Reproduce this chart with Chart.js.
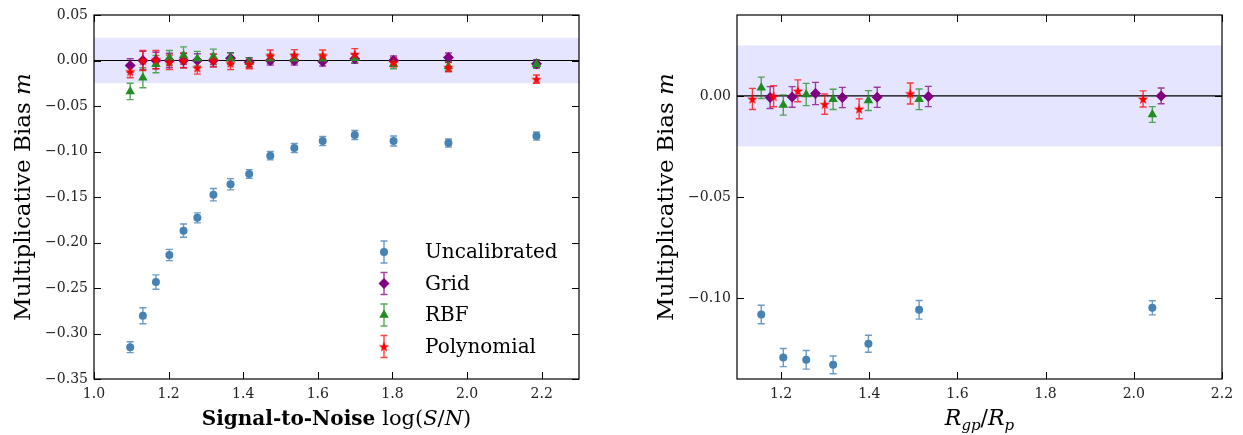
<!DOCTYPE html>
<html lang="en">
<head>
<meta charset="UTF-8">
<title>Multiplicative bias</title>
<style>
  html, body { margin: 0; padding: 0; background: #fff; }
  #wrap { position: relative; width: 1243px; height: 435px; }
  canvas { position: absolute; top: 0; }
  #left { left: 0; }
  #right { left: 620px; }
</style>
</head>
<body>
<div id="wrap">
  <canvas id="left" width="600" height="435"></canvas>
  <canvas id="right" width="623" height="435"></canvas>
</div>
<script src="https://cdn.jsdelivr.net/npm/chart.js@4.4.1/dist/chart.umd.min.js"></script>
<script>
// ---- left panel: bias against log(S/N)
const snr = [1.097, 1.131, 1.166, 1.202, 1.240, 1.277, 1.320, 1.366, 1.416, 1.4725, 1.537, 1.613, 1.699, 1.803, 1.950, 2.186];
const snrUncal = [-0.315, -0.2805, -0.2435, -0.2137, -0.187, -0.1729, -0.1475, -0.136, -0.1247, -0.1046, -0.0962, -0.0885, -0.082, -0.0885, -0.0907, -0.083];
const snrUncalErr = [0.006, 0.0088, 0.0079, 0.0062, 0.0073, 0.0055, 0.0068, 0.0062, 0.0048, 0.0046, 0.005, 0.005, 0.005, 0.0055, 0.0045, 0.0045];
const snrGrid = [-0.0055, 0, 0, 0, 0, 0, 0, 0.0025, -0.002, 0, 0, -0.001, 0.002, 0, 0.0033, -0.0035];
const snrGridErr = [0.0075, 0.010, 0.009, 0.008, 0.008, 0.0075, 0.007, 0.006, 0.005, 0.005, 0.005, 0.005, 0.005, 0.005, 0.005, 0.0045];
const snrRbf = [-0.034, -0.019, -0.004, 0.003, 0.0055, 0.002, 0.004, 0.002, -0.002, 0.002, 0.002, 0.002, 0.0025, -0.004, -0.0066, -0.004];
const snrRbfErr = [0.009, 0.011, 0.0095, 0.008, 0.0095, 0.008, 0.0085, 0.0065, 0.005, 0.005, 0.005, 0.005, 0.005, 0.005, 0.005, 0.0045];
const snrPoly = [-0.012, 0, 0.001, -0.002, 0, -0.008, 0, -0.003, -0.004, 0.0055, 0.006, 0.0055, 0.007, -0.002, -0.0073, -0.0205];
const snrPolyErr = [0.007, 0.011, 0.010, 0.008, 0.008, 0.007, 0.007, 0.007, 0.005, 0.006, 0.006, 0.006, 0.006, 0.005, 0.005, 0.0045];
const snrTicksX = [1.0, 1.2, 1.4, 1.6, 1.8, 2.0, 2.2];
const snrTicksY = [-0.35, -0.30, -0.25, -0.20, -0.15, -0.10, -0.05, 0.00, 0.05];

// ---- right panel: bias against R_gp/R_p
const sizeBins = [1.155, 1.205, 1.257, 1.318, 1.398, 1.513, 2.042];
const sizeGridX = [1.175, 1.225, 1.278, 1.339, 1.418, 1.534, 2.062];
const sizePolyX = [1.135, 1.183, 1.238, 1.299, 1.377, 1.493, 2.021];
const sizeUncal = [-0.1081, -0.1294, -0.1305, -0.133, -0.1226, -0.1058, -0.1048];
const sizeUncalErr = [0.0046, 0.0045, 0.0046, 0.0044, 0.0042, 0.0046, 0.0035];
const sizeGrid = [-0.0008, -0.0005, 0.0012, -0.0008, -0.0007, -0.0003, 0];
const sizeGridErr = [0.0054, 0.0051, 0.0055, 0.005, 0.005, 0.005, 0.0039];
const sizeRbf = [0.004, -0.0045, 0.0007, -0.0017, -0.0023, -0.0017, -0.0092];
const sizeRbfErr = [0.0053, 0.005, 0.0055, 0.005, 0.0049, 0.0051, 0.0039];
const sizePoly = [-0.0015, -0.0002, 0.0025, -0.0041, -0.0064, 0.0012, -0.0015];
const sizePolyErr = [0.0052, 0.0052, 0.0054, 0.005, 0.0049, 0.0052, 0.004];
const sizeTicksX = [1.2, 1.4, 1.6, 1.8, 2.0, 2.2];
const sizeTicksY = [-0.10, -0.05, 0.00];

const band = 0.025;
const labels = ['Uncalibrated', 'Grid', 'RBF', 'Polynomial'];
const serif = 'DejaVu Serif';

// filled five-point star, matplotlib style
function starMarker(color) {
  const c = document.createElement('canvas');
  c.width = 12; c.height = 12;
  const g = c.getContext('2d');
  g.fillStyle = color;
  g.beginPath();
  for (let k = 0; k < 10; k++) {
    const r = k % 2 ? 2.2 : 5.5;
    const t = -Math.PI / 2 + k * Math.PI / 5;
    g.lineTo(6 + r * Math.cos(t), 6.5 + r * Math.sin(t));
  }
  g.closePath();
  g.fill();
  return c;
}

const styles = [
  { pointStyle: 'circle', radius: 4, color: '#4682b4', err: 'rgba(70,130,180,0.8)' },
  { pointStyle: 'rectRot', radius: 5.5, color: '#800080', err: 'rgba(128,0,128,0.75)' },
  { pointStyle: 'triangle', radius: 5.5, color: '#228b22', err: 'rgba(34,139,34,0.75)' },
  { pointStyle: starMarker('#ff0000'), radius: 5, color: '#ff0000', err: 'rgba(255,0,0,0.75)' }
];

function pts(xs, ys, es) {
  return xs.map((x, i) => ({ x: x, y: ys[i], err: es[i] }));
}

function makeSets(series) {
  // draw polynomial on top, uncalibrated at the bottom
  return series.map((d, i) => ({
    label: labels[i],
    data: d,
    pointStyle: styles[i].pointStyle,
    pointRadius: styles[i].radius,
    backgroundColor: styles[i].color,
    borderColor: styles[i].color,
    borderWidth: 0,
    errColor: styles[i].err,
    showLine: false,
    order: 3 - i
  }));
}

function fmt(v, n) {
  const s = Math.abs(v).toFixed(n);
  return (v < -1e-9 ? '\u2212' : '') + s;
}

// mixed-font text, centred on (cx, cy)
function drawRuns(ctx, runs, cx, cy, rot) {
  ctx.save();
  ctx.translate(cx, cy);
  if (rot) ctx.rotate(rot);
  ctx.textBaseline = 'alphabetic';
  ctx.textAlign = 'left';
  ctx.fillStyle = '#000';
  let w = 0;
  runs.forEach(r => { ctx.font = r.font; r.w = ctx.measureText(r.t).width; w += r.w; });
  let x = -w / 2;
  runs.forEach(r => {
    ctx.font = r.font;
    ctx.fillText(r.t, x, r.dy || 0);
    x += r.w;
  });
  ctx.restore();
}

const panelPlugin = {
  id: 'panel',
  beforeDatasetsDraw(chart) {
    const { ctx, chartArea: a, scales: { x, y } } = chart;
    ctx.save();
    ctx.beginPath();
    ctx.rect(a.left, a.top, a.width, a.height);
    ctx.clip();
    const yt = y.getPixelForValue(band), yb = y.getPixelForValue(-band);
    ctx.fillStyle = 'rgba(0,0,255,0.1)';
    ctx.fillRect(a.left, yt, a.width, yb - yt);
    const y0 = y.getPixelForValue(0);
    ctx.strokeStyle = '#000';
    ctx.lineWidth = 1.2;
    ctx.beginPath();
    ctx.moveTo(a.left, y0); ctx.lineTo(a.right, y0);
    ctx.stroke();
    // error bars
    const cap = 3.5;
    chart.data.datasets.forEach((ds, i) => {
      const meta = chart.getDatasetMeta(i);
      ctx.strokeStyle = ds.errColor;
      ctx.lineWidth = 1.4;
      meta.data.forEach((p, j) => {
        const d = ds.data[j];
        const y1 = y.getPixelForValue(d.y + d.err), y2 = y.getPixelForValue(d.y - d.err);
        ctx.beginPath();
        ctx.moveTo(p.x, y1); ctx.lineTo(p.x, y2);
        ctx.moveTo(p.x - cap, y1); ctx.lineTo(p.x + cap, y1);
        ctx.moveTo(p.x - cap, y2); ctx.lineTo(p.x + cap, y2);
        ctx.stroke();
      });
    });
    ctx.restore();
  },
  afterDraw(chart) {
    const { ctx, chartArea: a, scales: { x, y } } = chart;
    const o = chart.options.plugins.panel;
    ctx.save();
    // frame and inward ticks on all four sides
    ctx.strokeStyle = '#000';
    ctx.lineWidth = 1.2;
    ctx.strokeRect(a.left, a.top, a.width, a.height);
    ctx.lineWidth = 1;
    ctx.beginPath();
    x.ticks.forEach(t => {
      const px = Math.round(x.getPixelForValue(t.value)) + 0.5;
      ctx.moveTo(px, a.top); ctx.lineTo(px, a.top + 7);
      ctx.moveTo(px, a.bottom); ctx.lineTo(px, a.bottom - 7);
    });
    y.ticks.forEach(t => {
      const py = Math.round(y.getPixelForValue(t.value)) + 0.5;
      ctx.moveTo(a.left, py); ctx.lineTo(a.left + 7, py);
      ctx.moveTo(a.right, py); ctx.lineTo(a.right - 7, py);
    });
    ctx.stroke();
    ctx.restore();

    // axis titles
    drawRuns(ctx, o.xTitle, (a.left + a.right) / 2, 425, 0);
    drawRuns(ctx, o.yTitle, a.left - 64, (a.top + a.bottom) / 2, -Math.PI / 2);

    // legend, lower right of the left panel
    if (o.legend) {
      const mx = a.right - 195, my = a.bottom - 127, step = 31.5;
      chart.data.datasets.forEach((ds, i) => {
        const yy = my + i * step;
        ctx.save();
        ctx.strokeStyle = ds.errColor;
        ctx.lineWidth = 1.4;
        ctx.beginPath();
        ctx.moveTo(mx, yy - 11); ctx.lineTo(mx, yy + 11);
        ctx.moveTo(mx - 3.5, yy - 11); ctx.lineTo(mx + 3.5, yy - 11);
        ctx.moveTo(mx - 3.5, yy + 11); ctx.lineTo(mx + 3.5, yy + 11);
        ctx.stroke();
        ctx.fillStyle = ds.backgroundColor;
        ctx.strokeStyle = ds.borderColor;
        Chart.helpers.drawPoint(ctx, { pointStyle: ds.pointStyle, radius: ds.pointRadius, rotation: 0, borderWidth: 0 }, mx, yy);
        ctx.fillStyle = '#000';
        ctx.font = '20px ' + serif;
        ctx.textBaseline = 'middle';
        ctx.fillText(ds.label, mx + 41, yy + 1);
        ctx.restore();
      });
    }
  }
};

function makeChart(id, series, xr, yr, xTicks, yTicks, xDec, yWidth, opts) {
  return new Chart(document.getElementById(id), {
    type: 'scatter',
    data: { datasets: makeSets(series) },
    options: {
      responsive: false,
      animation: false,
      events: [],
      layout: { padding: { left: 0, top: 15, right: 21, bottom: 0 } },
      plugins: { legend: { display: false }, tooltip: { enabled: false }, panel: opts },
      scales: {
        x: {
          type: 'linear', min: xr[0], max: xr[1],
          grid: { display: false, drawTicks: false },
          border: { display: false },
          afterBuildTicks: s => { s.ticks = xTicks.map(v => ({ value: v })); },
          afterFit: s => { s.height = 56; },
          ticks: { font: { family: serif, size: 14 }, color: '#222', padding: 7, maxRotation: 0, autoSkip: false,
                   callback: v => fmt(v, xDec) }
        },
        y: {
          type: 'linear', min: yr[0], max: yr[1],
          grid: { display: false, drawTicks: false },
          border: { display: false },
          afterBuildTicks: s => { s.ticks = yTicks.map(v => ({ value: v })); },
          afterFit: s => { s.width = yWidth; },
          ticks: { font: { family: serif, size: 14 }, color: '#222', padding: 6, autoSkip: false,
                   callback: v => fmt(v, 2) }
        }
      }
    },
    plugins: [panelPlugin]
  });
}

const yTitle = [
  { t: 'Multiplicative Bias ', font: '23px ' + serif },
  { t: 'm', font: 'italic 23px ' + serif }
];

makeChart('left', [
  pts(snr, snrUncal, snrUncalErr),
  pts(snr, snrGrid, snrGridErr),
  pts(snr, snrRbf, snrRbfErr),
  pts(snr, snrPoly, snrPolyErr)
], [1.0, 2.3], [-0.35, 0.05], snrTicksX, snrTicksY, 1, 94, {
  legend: true,
  yTitle: yTitle,
  xTitle: [
    { t: 'Signal-to-Noise ', font: 'bold 20px ' + serif },
    { t: 'log(', font: '21px ' + serif },
    { t: 'S', font: 'italic 21px ' + serif },
    { t: '/', font: '21px ' + serif },
    { t: 'N', font: 'italic 21px ' + serif },
    { t: ')', font: '21px ' + serif }
  ]
});

makeChart('right', [
  pts(sizeBins, sizeUncal, sizeUncalErr),
  pts(sizeGridX, sizeGrid, sizeGridErr),
  pts(sizeBins, sizeRbf, sizeRbfErr),
  pts(sizePolyX, sizePoly, sizePolyErr)
], [1.1, 2.2], [-0.14, 0.04], sizeTicksX, sizeTicksY, 1, 117, {
  legend: false,
  yTitle: yTitle,
  xTitle: [
    { t: 'R', font: 'italic 22px ' + serif },
    { t: 'gp', font: 'italic 15px ' + serif, dy: 5 },
    { t: '/', font: '22px ' + serif },
    { t: 'R', font: 'italic 22px ' + serif },
    { t: 'p', font: 'italic 15px ' + serif, dy: 5 }
  ]
});
</script>
</body>
</html>
